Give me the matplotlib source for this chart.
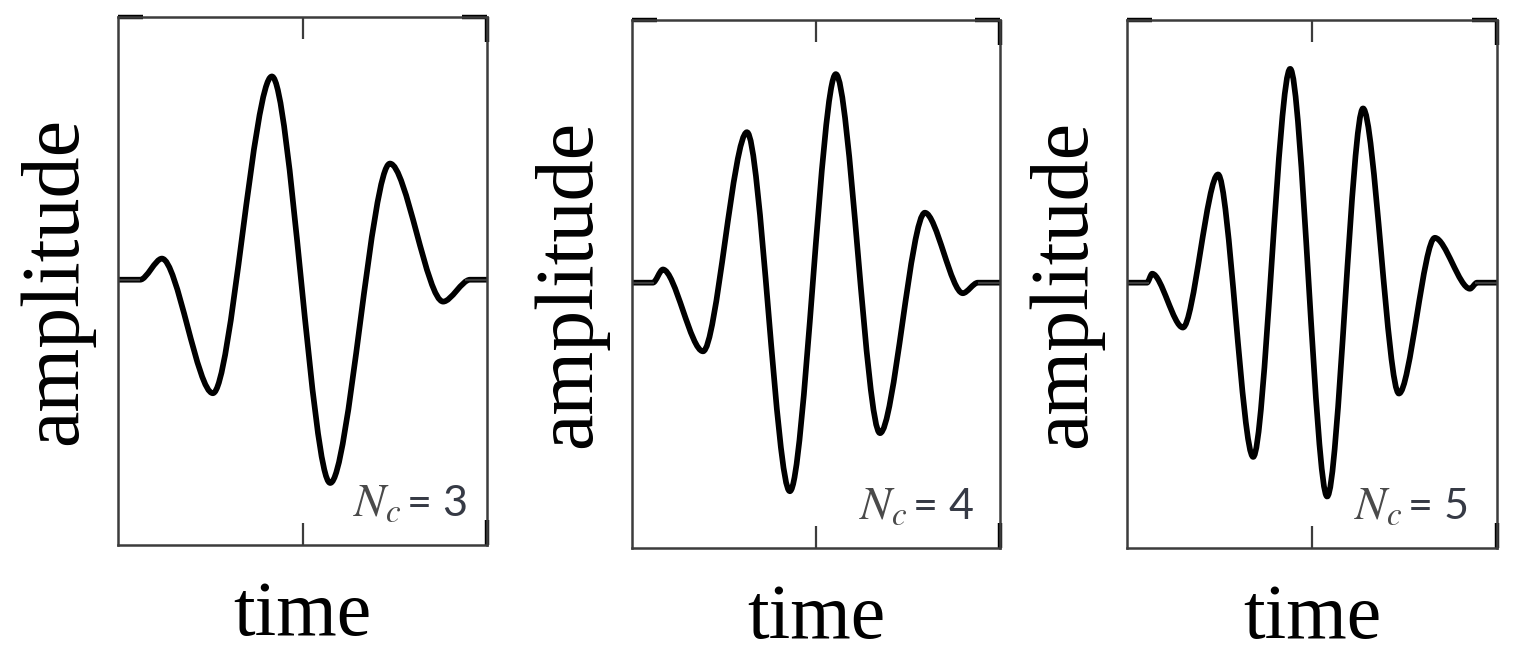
# -*- coding: utf-8 -*-
#%% modules
import matplotlib.pyplot as plt
from matplotlib.path import Path
from matplotlib.patches import PathPatch

plt.rcParams['mathtext.fontset'] = 'stix'

#%% data (time 0..1, amplitude, baseline = 0)
# extrema of each tone burst, flat parts at both ends
cycles = [3, 4, 5]

t_nc3 = [0.0, 0.06, 0.119, 0.257, 0.417, 0.575, 0.737, 0.881, 0.954, 1.0]
a_nc3 = [0.0, 0.0, 0.08, -0.43, 0.77, -0.77, 0.44, -0.083, 0.0, 0.0]

t_nc4 = [0.0, 0.057, 0.084, 0.193, 0.3125, 0.429, 0.554, 0.674, 0.796, 0.899, 0.94, 1.0]
a_nc4 = [0.0, 0.0, 0.05, -0.26, 0.57, -0.79, 0.79, -0.57, 0.265, -0.04, 0.0, 0.0]

t_nc5 = [0.0, 0.054, 0.068, 0.151, 0.246, 0.341, 0.441, 0.541, 0.638, 0.735,
         0.832, 0.927, 0.946, 1.0]
a_nc5 = [0.0, 0.0, 0.034, -0.17, 0.41, -0.66, 0.81, -0.81, 0.66, -0.42,
         0.17, -0.023, 0.0, 0.0]

series = [(t_nc3, a_nc3), (t_nc4, a_nc4), (t_nc5, a_nc5)]


#%% smooth curve through the extrema (bezier, flat tangent at each extremum)
def burst_path(t, a, k=0.3):
    verts = [(t[0], a[0]), (t[1], a[1])]
    codes = [Path.MOVETO, Path.LINETO]
    for i in range(1, len(t) - 2):
        dx = t[i + 1] - t[i]
        verts += [(t[i] + k * dx, a[i]), (t[i + 1] - k * dx, a[i + 1]), (t[i + 1], a[i + 1])]
        codes += [Path.CURVE4] * 3
    verts.append((t[-1], a[-1]))
    codes.append(Path.LINETO)
    return Path(verts, codes)


#%% figure
fig = plt.figure(figsize=(15.13, 6.58), dpi=100, facecolor='white')

# left, bottom, width, height in figure fraction
boxes = [[0.078, 0.1717, 0.2439, 0.8024],
         [0.4177, 0.1672, 0.2432, 0.8024],
         [0.7449, 0.1672, 0.2445, 0.8024]]
label_right = [0.948, 0.93, 0.925]

spine_col = '#3c3c3c'
for n in range(3):
    ax = fig.add_axes(boxes[n])
    t, a = series[n]
    ax.add_patch(PathPatch(burst_path(t, a), fill=False, color='black', lw=4.1,
                           capstyle='round', joinstyle='round'))
    ax.set_xlim(0, 1)
    ax.set_ylim(-1.005, 0.995)

    for sp in ax.spines.values():
        sp.set_color(spine_col)
        sp.set_linewidth(1.8)

    ax.set_xticks([0.5])
    ax.set_xticks([1.0], minor=True)
    ax.set_yticks([0.0])
    ax.set_yticks([0.995], minor=True)
    ax.tick_params(which='major', direction='in', length=16, width=1.6, color=spine_col,
                   top=True, right=True, labelbottom=False, labelleft=False)
    ax.tick_params(which='minor', direction='in', length=18, width=3.2, color='black',
                   top=True, right=True, labelbottom=False, labelleft=False)

    ax.text(0.5, -0.17, 'time', transform=ax.transAxes, ha='center', va='baseline',
            family='Liberation Serif', fontsize=56, color='black')
    ax.text(-0.113, 0.5, 'amplitude', transform=ax.transAxes, rotation=90,
            rotation_mode='anchor', ha='center', va='baseline',
            family='Liberation Serif', fontsize=59, color='black')

    # "N_c" in serif italic, "= n" in sans, as in the source figure
    eq = ax.text(label_right[n], 0.055, '= ' + str(cycles[n]), transform=ax.transAxes,
                 ha='right', va='baseline', family='Lato', fontsize=31, color='#363a45')
    ax.annotate(r'$N_c$', xy=(0, 0.055), xycoords=(eq, ax.transAxes),
                xytext=(-4, 0), textcoords='offset points',
                ha='right', va='baseline', fontsize=34, color='#4a4a4a')

fig.savefig('out.png', dpi=100, facecolor='white')
